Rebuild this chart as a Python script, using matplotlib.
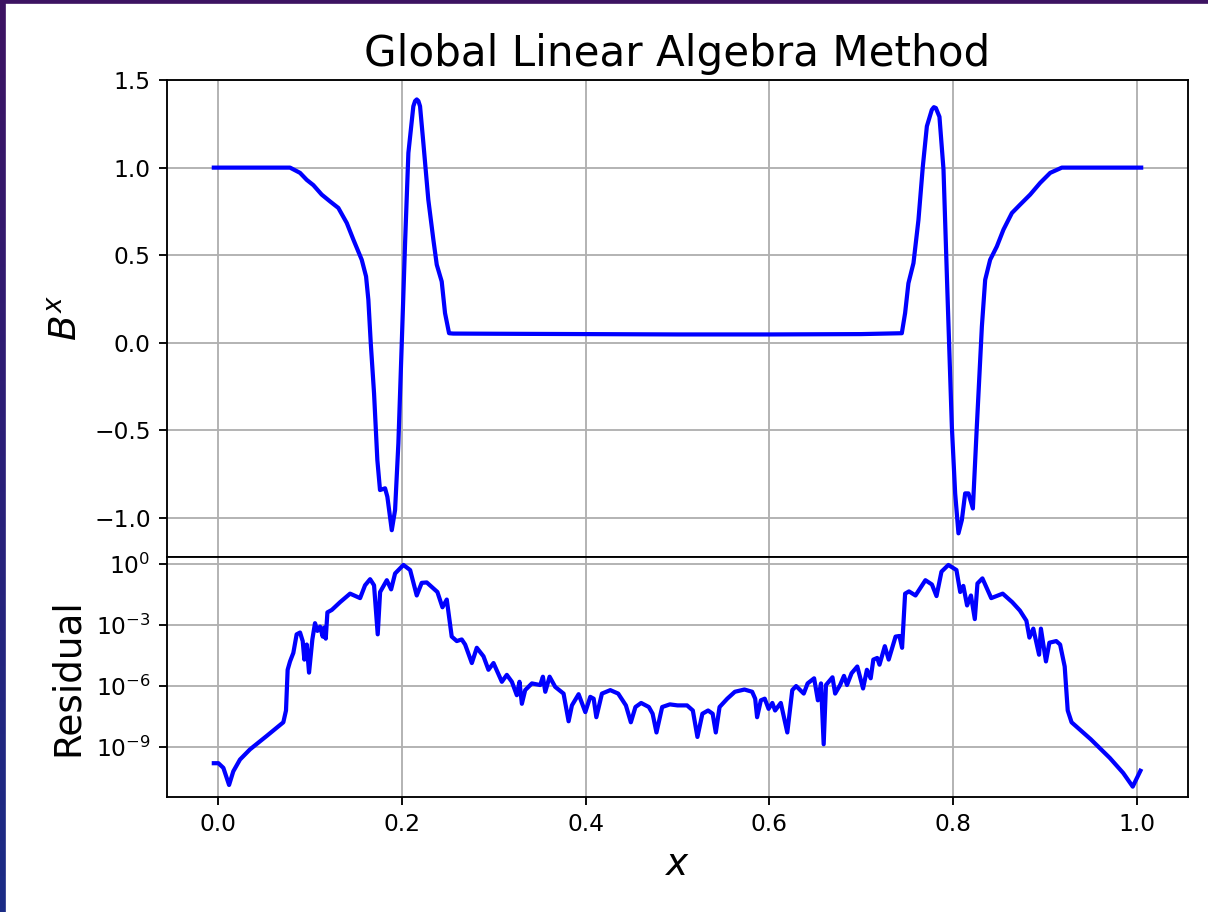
import numpy as np
import matplotlib
matplotlib.use('Agg')
import matplotlib.pyplot as plt
from matplotlib.patches import Rectangle
from matplotlib.ticker import NullLocator

# B^x profile
bx_x = [-0.005, 0.078, 0.0889, 0.0962, 0.1034, 0.1125, 0.1216, 0.1306, 0.1398, 0.147,
        0.1561, 0.1608, 0.1633, 0.1659, 0.1695, 0.1731, 0.176, 0.1815, 0.184, 0.1888,
        0.1924, 0.196, 0.1997, 0.2033, 0.2069, 0.2123, 0.2142, 0.216, 0.2178, 0.2196,
        0.2232, 0.2286, 0.2341, 0.2378, 0.2432, 0.2468, 0.2512, 0.2556, 0.30, 0.40,
        0.50, 0.60, 0.70, 0.7443, 0.7479, 0.7515, 0.757, 0.7624, 0.7672, 0.7716,
        0.777, 0.7792, 0.7814, 0.7853, 0.7897, 0.794, 0.7988, 0.8024, 0.806, 0.8097,
        0.8133, 0.8169, 0.8217, 0.826, 0.8315, 0.8351, 0.8405, 0.8478, 0.855, 0.8642,
        0.8732, 0.8841, 0.895, 0.9059, 0.9186, 1.005]
bx_y = [1.0, 1.0, 0.97, 0.93, 0.90, 0.846, 0.807, 0.77, 0.684, 0.589,
        0.474, 0.379, 0.246, 0.0, -0.288, -0.669, -0.84, -0.83, -0.878, -1.069,
        -0.954, -0.573, 0.0, 0.57, 1.084, 1.35, 1.38, 1.389, 1.38, 1.35,
        1.141, 0.817, 0.589, 0.446, 0.35, 0.17, 0.055, 0.053, 0.052, 0.050,
        0.048, 0.048, 0.050, 0.055, 0.17, 0.34, 0.455, 0.70, 1.007, 1.236,
        1.33, 1.345, 1.34, 1.29, 0.99, 0.284, -0.478, -0.859, -1.087, -1.011,
        -0.859, -0.859, -0.945, -0.478, 0.093, 0.36, 0.474, 0.55, 0.646, 0.741,
        0.789, 0.846, 0.913, 0.97, 1.0, 1.0]

# residual, stored as log10 values
res_x = [-0.005, 0.0, 0.0054, 0.0116, 0.0162, 0.0235, 0.0344, 0.0526, 0.0707, 0.0736,
         0.0754, 0.078, 0.0816, 0.0852, 0.0889, 0.0918, 0.0936, 0.0962, 0.0987, 0.1023,
         0.1052, 0.1078, 0.1107, 0.1136, 0.1151, 0.1169, 0.1187, 0.1235, 0.1325, 0.1434,
         0.1543, 0.1597, 0.1652, 0.1695, 0.1735, 0.1761, 0.1834, 0.1881, 0.1924, 0.2015,
         0.2088, 0.216, 0.2214, 0.2269, 0.2342, 0.2385, 0.244, 0.2487, 0.2541, 0.2596,
         0.265, 0.2687, 0.276, 0.2814, 0.2887, 0.2941, 0.2996, 0.3087, 0.3141, 0.3196,
         0.325, 0.3279, 0.3305, 0.3341, 0.3414, 0.3505, 0.3534, 0.356, 0.3607, 0.3668,
         0.3759, 0.3814, 0.385, 0.3923, 0.3996, 0.405, 0.4087, 0.4116, 0.4177, 0.4268,
         0.4354, 0.4438, 0.4492, 0.4542, 0.4604, 0.4688, 0.4729, 0.4771, 0.4833, 0.4917,
         0.5, 0.5104, 0.5167, 0.5217, 0.5271, 0.5333, 0.5383, 0.5417, 0.5458, 0.5542,
         0.5625, 0.5729, 0.5813, 0.5846, 0.5867, 0.5908, 0.595, 0.5992, 0.6033, 0.6063,
         0.6125, 0.6196, 0.625, 0.6292, 0.6375, 0.6417, 0.6488, 0.6529, 0.6563, 0.6592,
         0.6617, 0.6688, 0.6717, 0.6771, 0.6813, 0.6846, 0.6896, 0.6958, 0.7021, 0.7063,
         0.7104, 0.7133, 0.7175, 0.72, 0.7258, 0.73, 0.7375, 0.7417, 0.7446, 0.7479,
         0.7521, 0.7592, 0.77, 0.7771, 0.7821, 0.7875, 0.795, 0.8038, 0.8079, 0.8113,
         0.8154, 0.8196, 0.8238, 0.8267, 0.8321, 0.8417, 0.8542, 0.8646, 0.8729, 0.88,
         0.8833, 0.8875, 0.8938, 0.8958, 0.9013, 0.905, 0.9125, 0.9167, 0.9217, 0.925,
         0.9292, 0.95, 0.9708, 0.9854, 0.9958, 1.0042]
res_log = [-9.79, -9.79, -10.02, -10.86, -10.19, -9.61, -9.11, -8.45, -7.78, -7.2,
           -5.2, -4.79, -4.37, -3.46, -3.37, -3.79, -4.70, -3.96, -5.34, -3.71,
           -2.91, -3.29, -3.08, -3.57, -3.13, -3.67, -2.38, -2.26, -1.88, -1.46,
           -1.68, -1.05, -0.75, -1.05, -3.46, -1.38, -0.80, -1.25, -0.47, -0.05,
           -0.30, -1.55, -0.93, -0.91, -1.21, -1.38, -2.13, -1.75, -3.57, -3.79,
           -3.71, -3.96, -4.87, -4.12, -4.54, -5.20, -4.87, -5.79, -5.45, -5.79,
           -6.45, -5.79, -6.87, -6.20, -5.87, -5.95, -5.54, -6.28, -5.54, -6.04,
           -6.37, -7.73, -6.95, -6.40, -7.28, -6.53, -6.62, -7.53, -6.37, -6.20,
           -6.37, -6.95, -7.78, -7.03, -6.83, -7.03, -7.36, -8.28, -7.03, -6.90,
           -6.95, -6.95, -7.20, -8.50, -7.36, -7.20, -7.36, -8.28, -7.03, -6.62,
           -6.28, -6.17, -6.28, -6.62, -7.53, -6.70, -6.62, -7.12, -6.83, -7.20,
           -6.83, -8.28, -6.20, -6.0, -6.37, -5.87, -5.62, -6.70, -5.87, -8.86,
           -5.95, -5.57, -6.37, -5.95, -5.50, -5.95, -5.37, -5.04, -6.12, -5.20,
           -5.62, -4.70, -4.62, -4.95, -4.04, -4.70, -3.57, -3.54, -4.12, -1.46,
           -1.35, -1.55, -0.80, -1.01, -1.58, -0.38, -0.05, -0.30, -1.38, -1.08,
           -2.04, -1.55, -2.71, -0.96, -0.71, -1.68, -1.46, -1.88, -2.29, -2.79,
           -3.62, -3.18, -4.46, -3.18, -4.79, -3.87, -3.79, -3.96, -5.04, -7.20,
           -7.78, -8.61, -9.53, -10.27, -10.94, -10.16]
res_ticks = [1e0, 1e-3, 1e-6, 1e-9]

W, H, DPI = 1208, 912, 168
fig = plt.figure(figsize=(W / DPI, H / DPI), dpi=DPI)

# slide background behind the screenshot
bg = fig.add_axes([0, 0, 1, 1], zorder=-10)
grad = np.linspace(0, 1, 256).reshape(-1, 1)
cmap = matplotlib.colors.LinearSegmentedColormap.from_list('slide', ['#3d1362', '#2a1f78', '#1b2c86'])
bg.imshow(grad, aspect='auto', cmap=cmap, extent=[0, 1, 0, 1], origin='upper')
bg.add_patch(Rectangle((7 / W, 0), 1, 1 - 5 / H, color='white'))
bg.set_xlim(0, 1)
bg.set_ylim(0, 1)
bg.axis('off')

left = 167 / W
width = (1188 - 167) / W
ax1 = fig.add_axes([left, 1 - 557 / H, width, 477 / H])
ax2 = fig.add_axes([left, 1 - 797 / H, width, 240 / H], sharex=ax1)

ax1.plot(bx_x, bx_y, color='blue', lw=1.8)
ax1.set_title('Global Linear Algebra Method', fontsize=18)
ax1.set_ylabel('$B^x$', fontsize=16)
ax1.set_ylim(-1.222, 1.5)
ax1.set_yticks([-1.0, -0.5, 0.0, 0.5, 1.0, 1.5])
ax1.grid(True)
ax1.tick_params(labelbottom=False)

ax2.semilogy(res_x, [10 ** v for v in res_log], color='blue', lw=1.8)
ax2.set_ylim(10 ** -11.45, 10 ** 0.34)
ax2.set_yticks(res_ticks)
ax2.yaxis.set_minor_locator(NullLocator())
ax2.set_ylabel('Residual', fontsize=16)
ax2.set_xlabel('$x$', fontsize=16)
ax2.set_xlim(-0.056, 1.056)
ax2.set_xticks([0.0, 0.2, 0.4, 0.6, 0.8, 1.0])
ax2.grid(True)

fig.savefig('out.png', dpi=DPI)
